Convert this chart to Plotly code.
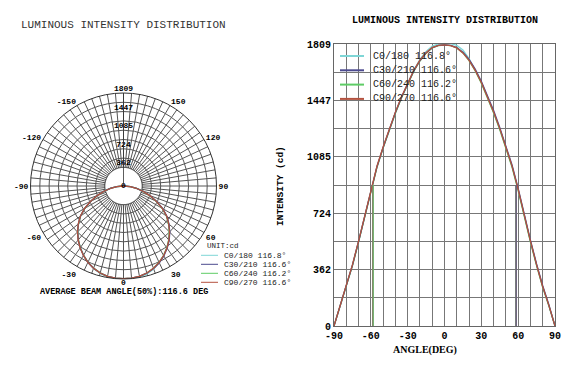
import plotly.graph_objects as go

# ---------------- data ----------------
angles = list(range(-90, 91, 5))
series_names = ["C0/180", "C30/210", "C60/240", "C90/270"]
beam_angles = [116.8, 116.6, 116.2, 116.6]
avg_beam = 116.6
max_cd = 1809

c0_180 = [0, 130, 249, 389, 541, 701, 871, 1021, 1144, 1261, 1368, 1466, 1556, 1640, 1710, 1762, 1796, 1809, 1812,
          1812, 1800, 1770, 1716, 1644, 1562, 1470, 1371, 1264, 1146, 1024, 874, 704, 543, 390, 250, 131, 0]
c30_210 = [0, 130, 250, 390, 542, 702, 872, 1022, 1145, 1262, 1369, 1467, 1557, 1637, 1703, 1752, 1785, 1800, 1803,
           1800, 1786, 1756, 1710, 1648, 1570, 1480, 1382, 1274, 1156, 1033, 883, 713, 551, 398, 258, 136, 0]
c60_240 = [0, 128, 247, 386, 538, 698, 867, 1018, 1141, 1258, 1365, 1464, 1554, 1634, 1700, 1750, 1784, 1799, 1802,
           1799, 1784, 1752, 1702, 1638, 1558, 1468, 1368, 1260, 1142, 1019, 868, 699, 539, 387, 248, 129, 0]
c90_270 = [0, 132, 252, 392, 545, 705, 875, 1025, 1148, 1265, 1372, 1470, 1560, 1640, 1705, 1753, 1786, 1800, 1803,
           1799, 1784, 1752, 1704, 1640, 1562, 1472, 1373, 1266, 1148, 1026, 876, 706, 545, 392, 252, 132, 0]
series_values = [c0_180, c30_210, c60_240, c90_270]

radial_ticks = [0, 362, 724, 1085, 1447, 1809]
radial_tick_labels = ["0", "362", "724", "1085", "1447", "1809"]
x_ticks = [-90, -60, -30, 0, 30, 60, 90]

colors = ["#7fd6d6", "#4c4a8e", "#5ecc66", "#b4523f"]
FONT = "Liberation Mono"

W, H = 582, 381
OFF = 8  # page body margin offset


def px(x):
    return (x - OFF) / W


def py(y):
    return 1 - (y - OFF) / H


fig = go.Figure()

# ---------------- polar chart ----------------
step = max_cd / 10.0
radial_grid = [round(step * k, 1) for k in range(0, 11)]
ang_vals = list(range(0, 360, 5))
label_map = {30: "30", 60: "60", 90: "90", 120: "120", 150: "150",
             210: "-150", 240: "-120", 270: "-90", 300: "-60", 330: "-30"}
ang_text = [label_map.get(a, "") for a in ang_vals]

# inner blank disk (covers spokes inside the first labelled ring)
disk_theta = list(range(0, 361, 2))
fig.add_trace(go.Scatterpolar(r=[radial_ticks[1]] * len(disk_theta), theta=disk_theta, mode="lines",
                              fill="toself", fillcolor="white", line=dict(color="#333", width=0.8),
                              hoverinfo="skip", showlegend=False))

for i in [0, 2, 1, 3]:
    fig.add_trace(go.Scatterpolar(r=series_values[i], theta=angles, mode="lines", name=series_names[i],
                                  line=dict(color=colors[i], width=1.3), showlegend=False))

fig.add_trace(go.Scatterpolar(r=radial_ticks, theta=[180] * len(radial_ticks), mode="text",
                              text=radial_tick_labels,
                              textposition=["middle center"] + ["top center"] * (len(radial_ticks) - 1),
                              textfont=dict(family=FONT, size=8, color="black", weight="bold"),
                              hoverinfo="skip", showlegend=False))
# angular label "0" placed just under the outer ring
fig.add_trace(go.Scatterpolar(r=[max_cd], theta=[0], mode="text", text=["0"], textposition="bottom center",
                              textfont=dict(family=FONT, size=8, color="black", weight="bold"),
                              hoverinfo="skip", showlegend=False))

# ---------------- cartesian chart ----------------
for i in [0, 2, 1, 3]:
    fig.add_trace(go.Scatter(x=angles, y=series_values[i], mode="lines", name=series_names[i],
                             xaxis="x", yaxis="y", line=dict(color=colors[i], width=1.3), showlegend=False))
# beam-angle markers (left side: green on top, right side: navy on top)
for i in [0, 1, 3, 2]:
    h = beam_angles[i] / 2.0
    fig.add_trace(go.Scatter(x=[-h, -h], y=[0, max_cd / 2], mode="lines",
                             line=dict(color=colors[i], width=1), xaxis="x", yaxis="y",
                             hoverinfo="skip", showlegend=False))
for i in [0, 2, 3, 1]:
    h = beam_angles[i] / 2.0
    fig.add_trace(go.Scatter(x=[h, h], y=[0, max_cd / 2], mode="lines",
                             line=dict(color=colors[i], width=1), xaxis="x", yaxis="y",
                             hoverinfo="skip", showlegend=False))

fig.update_layout(
    width=W, height=H, autosize=False, margin=dict(l=0, r=0, t=0, b=0, pad=0, autoexpand=False),
    paper_bgcolor="white", plot_bgcolor="white", showlegend=False,
    polar=dict(
        domain=dict(x=[px(30.5), px(216.5)], y=[py(279), py(93)]),
        bgcolor="white",
        angularaxis=dict(rotation=-90, direction="counterclockwise", tickmode="array",
                         tickvals=ang_vals, ticktext=ang_text, ticks="",
                         showgrid=True, gridcolor="#555", gridwidth=0.7,
                         showline=True, linecolor="#333", linewidth=1,
                         tickfont=dict(family=FONT, size=8, color="black", weight="bold")),
        radialaxis=dict(range=[0, max_cd], tickmode="array", tickvals=radial_grid,
                        showticklabels=False, ticks="", showgrid=True, gridcolor="#555", gridwidth=0.7,
                        showline=True, linecolor="#333", linewidth=0.8, angle=90, layer="above traces"),
    ),
    xaxis=dict(domain=[px(334), px(555)], range=[-90, 90], tickmode="array", tickvals=x_ticks,
               ticktext=[str(v) for v in x_ticks], showgrid=True, gridcolor="#777", gridwidth=1,
               minor=dict(dtick=10, tick0=-90, showgrid=True, gridcolor="#777", gridwidth=1),
               showline=True, mirror=True, linecolor="#666", linewidth=1, zeroline=False, ticks="",
               automargin=False,
               tickfont=dict(family=FONT, size=10, color="black", weight="bold"), anchor="y"),
    yaxis=dict(domain=[py(326), py(44)], range=[0, max_cd], tickmode="array", tickvals=radial_ticks,
               ticktext=radial_tick_labels, showgrid=True, gridcolor="#777", gridwidth=1,
               minor=dict(tickmode="array", tickvals=[step * k for k in range(1, 10, 2)],
                          showgrid=True, gridcolor="#777", gridwidth=1),
               showline=True, mirror=True, linecolor="#666", linewidth=1, zeroline=False, ticks="",
               automargin=False,
               tickfont=dict(family=FONT, size=10, color="black", weight="bold"), anchor="x"),
)


def note(text, x, y, size, xanchor="center", color="black", bold=False, family=FONT, angle=0):
    f = dict(family=family, size=size, color=color)
    if bold:
        f["weight"] = "bold"
    return dict(text=text, x=px(x), y=py(y), xref="paper", yref="paper", xanchor=xanchor, yanchor="middle",
                showarrow=False, textangle=angle, font=f)


ann = [
    note("LUMINOUS INTENSITY DISTRIBUTION", 123, 25.5, 11, color="#333"),
    note("LUMINOUS INTENSITY DISTRIBUTION", 444.5, 20.5, 10, bold=True),
    note(f"AVERAGE BEAM ANGLE(50%):{avg_beam} DEG", 123.5, 292, 8.5, bold=True),
    note("INTENSITY (cd)", 280, 186, 9.5, bold=True, angle=-90),
    note("ANGLE(DEG)", 424.5, 350, 10, bold=True, family="Liberation Serif"),
    note("UNIT:cd", 205, 246, 7.5, xanchor="left", color="#222"),
]

shapes = []
for i, (name, col, beam) in enumerate(zip(series_names, colors, beam_angles)):
    yl = 255.3 + 9 * i
    ann.append(note(f"{name} {beam}°", 222, yl, 8, xanchor="left", color="#222"))
    shapes.append(dict(type="line", xref="paper", yref="paper", x0=px(201), x1=px(218), y0=py(yl), y1=py(yl),
                       line=dict(color=col, width=1)))
    yr = 56 + 14.3 * i
    ann.append(note(f"{name} {beam}°", 371, yr, 10, xanchor="left", color="#222"))
    shapes.append(dict(type="line", xref="paper", yref="paper", x0=px(340), x1=px(364), y0=py(yr), y1=py(yr),
                       line=dict(color=col, width=2)))

fig.update_layout(annotations=ann, shapes=shapes)
fig.write_html("out.html")
